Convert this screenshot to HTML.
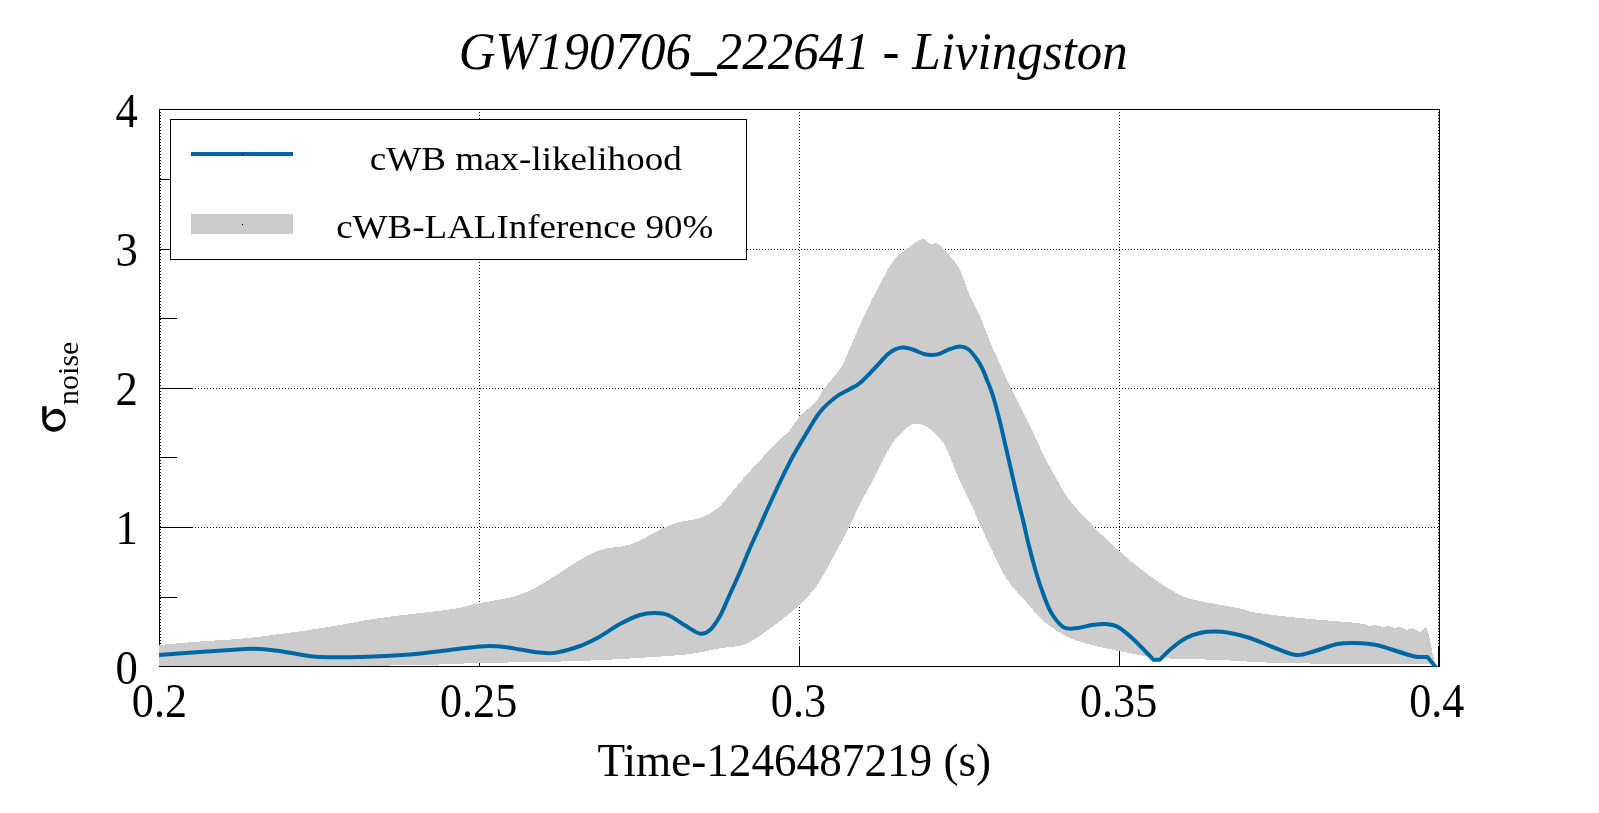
<!DOCTYPE html>
<html><head><meta charset="utf-8"><title>GW190706_222641 - Livingston</title>
<style>html,body{margin:0;padding:0;background:#fff;overflow:hidden}body{width:1599px;height:813px;position:relative;font-family:"Liberation Serif",serif}</style></head>
<body>
<svg width="1599" height="813" viewBox="0 0 1599 813" style="position:absolute;left:0;top:0">
<rect x="0" y="0" width="1599" height="813" fill="#fff"/>
<defs><clipPath id="pc"><rect x="159" y="109" width="1281" height="558"/></clipPath></defs>
<g shape-rendering="crispEdges" stroke="#000" stroke-width="1" fill="none">
<rect x="159.5" y="109.5" width="1280" height="557"/>
<line x1="159" y1="597.5" x2="177" y2="597.5"/>
<line x1="159" y1="527.5" x2="193" y2="527.5"/>
<line x1="159" y1="457.5" x2="177" y2="457.5"/>
<line x1="159" y1="388.5" x2="193" y2="388.5"/>
<line x1="159" y1="318.5" x2="177" y2="318.5"/>
<line x1="159" y1="249.5" x2="193" y2="249.5"/>
<line x1="159" y1="179.5" x2="177" y2="179.5"/>
<line x1="479.5" y1="646" x2="479.5" y2="666"/>
<line x1="799.5" y1="646" x2="799.5" y2="666"/>
<line x1="1119.5" y1="646" x2="1119.5" y2="666"/>
<line x1="1438.5" y1="646" x2="1438.5" y2="666"/>
<line x1="160.5" y1="646" x2="160.5" y2="666"/>
</g>
<g shape-rendering="crispEdges" stroke="#000" stroke-width="1" stroke-dasharray="1 2" fill="none">
<line x1="160.5" y1="109" x2="160.5" y2="666"/>
<line x1="479.5" y1="109" x2="479.5" y2="666"/>
<line x1="799.5" y1="109" x2="799.5" y2="666"/>
<line x1="1119.5" y1="109" x2="1119.5" y2="666"/>
<line x1="1438.5" y1="109" x2="1438.5" y2="666"/>
<line x1="159" y1="527.5" x2="1439" y2="527.5"/>
<line x1="159" y1="388.5" x2="1439" y2="388.5"/>
<line x1="159" y1="249.5" x2="1439" y2="249.5"/>
</g>
<path d="M159,645C165.83,644.42 185.17,642.67 200,641.5C214.83,640.33 228.00,640.18 248,638C268.00,635.82 298.00,631.73 320,628.4C342.00,625.07 358.33,621.17 380,618C401.67,614.83 433.33,611.90 450,609.4C466.67,606.90 469.00,605.23 480,603C491.00,600.77 505.33,599.33 516,596C526.67,592.67 535.00,588.00 544,583C553.00,578.00 560.67,571.50 570,566C579.33,560.50 589.67,553.67 600,550C610.33,546.33 620.33,548.17 632,544C643.67,539.83 658.67,529.33 670,525C681.33,520.67 692.23,520.67 700,518C707.77,515.33 712.93,511.33 716.6,509C720.27,506.67 717.02,509.67 722,504C726.98,498.33 737.25,485.37 746.5,475C755.75,464.63 770.32,449.18 777.5,441.8C784.68,434.42 785.92,434.95 789.6,430.7C793.28,426.45 795.37,420.92 799.6,416.3C803.83,411.68 810.93,407.60 815,403C819.07,398.40 821.17,392.70 824,388.7C826.83,384.70 829.07,382.70 832,379C834.93,375.30 838.60,371.67 841.6,366.5C844.60,361.33 846.27,356.42 850,348C853.73,339.58 859.00,326.67 864,316C869.00,305.33 875.00,293.33 880,284C885.00,274.67 889.33,266.00 894,260C898.67,254.00 903.33,251.50 908,248C912.67,244.50 918.33,239.67 922,239C925.67,238.33 927.33,243.17 930,244C932.67,244.83 934.67,242.00 938,244C941.33,246.00 946.33,251.67 950,256C953.67,260.33 956.67,263.33 960,270C963.33,276.67 966.67,288.33 970,296C973.33,303.67 976.67,308.33 980,316C983.33,323.67 986.67,334.00 990,342C993.33,350.00 997.17,357.67 1000,364C1002.83,370.33 1005.17,376.00 1007,380C1008.83,384.00 1008.83,383.67 1011,388C1013.17,392.33 1016.50,399.00 1020,406C1023.50,413.00 1028.00,421.67 1032,430C1036.00,438.33 1040.00,448.00 1044,456C1048.00,464.00 1052.00,471.00 1056,478C1060.00,485.00 1064.33,492.67 1068,498C1071.67,503.33 1073.67,505.17 1078,510C1082.33,514.83 1087.00,520.00 1094,527C1101.00,534.00 1110.67,543.83 1120,552C1129.33,560.17 1140.00,568.83 1150,576C1160.00,583.17 1171.67,590.83 1180,595C1188.33,599.17 1190.00,598.75 1200,601C1210.00,603.25 1230.83,606.58 1240,608.5C1249.17,610.42 1245.00,610.92 1255,612.5C1265.00,614.08 1283.83,616.33 1300,618C1316.17,619.67 1343.33,621.75 1352,622.5L1364.5,624L1369,626L1375,625L1382.5,627L1388.5,626L1394,628L1400.5,627L1406.5,630L1412.5,628L1420,632L1426,626L1429,635L1431,646L1434,659L1435,665L1430,664C1420.50,664.00 1398.00,664.17 1373,664C1348.00,663.83 1305.50,663.67 1280,663C1254.50,662.33 1240.00,660.83 1220,660C1200.00,659.17 1175.00,659.17 1160,658C1145.00,656.83 1140.00,654.83 1130,653C1120.00,651.17 1110.00,649.50 1100,647C1090.00,644.50 1079.00,642.00 1070,638C1061.00,634.00 1053.33,629.00 1046,623C1038.67,617.00 1032.67,609.50 1026,602C1019.33,594.50 1012.00,587.33 1006,578C1000.00,568.67 994.67,555.67 990,546C985.33,536.33 980.67,526.00 978,520C975.33,514.00 975.67,513.67 974,510C972.33,506.33 971.00,504.33 968,498C965.00,491.67 960.00,481.00 956,472C952.00,463.00 948.67,451.42 944,444C939.33,436.58 932.67,430.83 928,427.5C923.33,424.17 919.33,424.08 916,424C912.67,423.92 912.00,423.67 908,427C904.00,430.33 897.33,436.17 892,444C886.67,451.83 879.17,468.00 876,474C872.83,480.00 875.62,475.10 873,480C870.38,484.90 864.37,495.40 860.3,503.4C856.23,511.40 852.90,519.43 848.6,528C844.30,536.57 838.78,546.83 834.5,554.8C830.22,562.77 826.40,569.93 822.9,575.8C819.40,581.67 817.40,585.13 813.5,590C809.60,594.87 804.95,599.95 799.5,605C794.05,610.05 787.05,615.42 780.8,620.3C774.55,625.18 768.23,630.22 762,634.3C755.77,638.38 750.40,642.47 743.4,644.8C736.40,647.13 730.57,646.60 720,648.3C709.43,650.00 703.33,652.88 680,655C656.67,657.12 613.33,659.67 580,661C546.67,662.33 511.67,662.25 480,663C448.33,663.75 443.50,665.00 390,665.5C336.50,666.00 197.50,665.92 159,666Z" fill="#CCCCCC" shape-rendering="crispEdges"/>
<path d="M159,655C165.83,654.50 188.17,652.83 200,652C211.83,651.17 221.33,650.53 230,650C238.67,649.47 244.50,648.72 252,648.8C259.50,648.88 267.00,649.55 275,650.5C283.00,651.45 292.50,653.42 300,654.5C307.50,655.58 310.00,656.58 320,657C330.00,657.42 345.00,657.43 360,657C375.00,656.57 395.00,655.57 410,654.4C425.00,653.23 438.33,651.33 450,650C461.67,648.67 471.67,647.00 480,646.4C488.33,645.80 493.33,645.90 500,646.4C506.67,646.90 513.33,648.37 520,649.4C526.67,650.43 534.00,652.07 540,652.6C546.00,653.13 549.33,653.70 556,652.6C562.67,651.50 572.67,648.70 580,646C587.33,643.30 593.33,640.07 600,636.4C606.67,632.73 613.33,627.57 620,624C626.67,620.43 634.33,616.83 640,615C645.67,613.17 649.33,613.00 654,613C658.67,613.00 662.67,612.83 668,615C673.33,617.17 680.67,622.90 686,626C691.33,629.10 696.00,632.93 700,633.6C704.00,634.27 706.67,632.93 710,630C713.33,627.07 716.67,622.00 720,616C723.33,610.00 726.67,601.33 730,594C733.33,586.67 736.67,579.67 740,572C743.33,564.33 746.67,555.67 750,548C753.33,540.33 757.17,532.33 760,526C762.83,519.67 763.67,517.33 767,510C770.33,502.67 775.83,490.67 780,482C784.17,473.33 787.67,466.00 792,458C796.33,450.00 801.33,441.67 806,434C810.67,426.33 815.00,418.17 820,412C825.00,405.83 831.00,400.83 836,397C841.00,393.17 846.00,391.33 850,389C854.00,386.67 856.00,386.33 860,383C864.00,379.67 869.33,373.83 874,369C878.67,364.17 884.33,357.33 888,354C891.67,350.67 893.33,350.07 896,349C898.67,347.93 901.00,347.43 904,347.6C907.00,347.77 910.67,348.93 914,350C917.33,351.07 921.00,353.17 924,354C927.00,354.83 929.33,355.07 932,355C934.67,354.93 937.00,354.60 940,353.6C943.00,352.60 946.67,350.20 950,349C953.33,347.80 957.00,346.40 960,346.4C963.00,346.40 965.33,347.07 968,349C970.67,350.93 973.67,354.83 976,358C978.33,361.17 980.17,364.33 982,368C983.83,371.67 985.17,375.33 987,380C988.83,384.67 990.83,389.00 993,396C995.17,403.00 997.83,413.33 1000,422C1002.17,430.67 1004.00,439.33 1006,448C1008.00,456.67 1010.00,465.33 1012,474C1014.00,482.67 1016.17,492.33 1018,500C1019.83,507.67 1021.33,513.00 1023,520C1024.67,527.00 1025.83,533.33 1028,542C1030.17,550.67 1033.33,563.00 1036,572C1038.67,581.00 1041.33,589.00 1044,596C1046.67,603.00 1048.67,608.77 1052,614C1055.33,619.23 1059.67,625.07 1064,627.4C1068.33,629.73 1073.33,628.40 1078,628C1082.67,627.60 1087.33,625.67 1092,625C1096.67,624.33 1101.67,623.67 1106,624C1110.33,624.33 1113.67,624.67 1118,627C1122.33,629.33 1127.33,633.83 1132,638C1136.67,642.17 1142.42,648.37 1146,652C1149.58,655.63 1152.25,658.50 1153.5,659.8C1154.50,659.80 1158.50,659.80 1159.5,659.8C1161.58,657.83 1167.58,651.63 1172,648C1176.42,644.37 1181.33,640.50 1186,638C1190.67,635.50 1195.33,634.07 1200,633C1204.67,631.93 1209.00,631.60 1214,631.6C1219.00,631.60 1224.00,631.93 1230,633C1236.00,634.07 1242.08,635.33 1250,638C1257.92,640.67 1269.67,646.17 1277.5,649C1285.33,651.83 1290.75,654.67 1297,655C1303.25,655.33 1308.25,652.83 1315,651C1321.75,649.17 1330.75,645.33 1337.5,644C1344.25,642.67 1349.25,642.88 1355.5,643C1361.75,643.12 1369.25,643.75 1375,644.75C1380.75,645.75 1385.00,647.50 1390,649C1395.00,650.50 1400.67,652.46 1405,653.75C1409.33,655.04 1412.25,656.21 1416,656.75C1419.75,657.29 1425.58,656.96 1427.5,657C1428.58,658.33 1432.92,663.67 1434,665C1434.50,665.58 1436.50,667.92 1437,668.5" fill="none" stroke="#0067A5" stroke-width="4" stroke-linejoin="round" clip-path="url(#pc)"/>
<rect x="170.5" y="119.5" width="576" height="140" fill="#fff" stroke="#000" stroke-width="1" shape-rendering="crispEdges"/>
<rect x="191" y="152" width="102" height="4" fill="#0067A5" shape-rendering="crispEdges"/>
<rect x="191" y="214" width="102" height="20" fill="#CCCCCC" shape-rendering="crispEdges"/>
<rect x="242" y="154" width="1" height="1" fill="#000"/><rect x="242" y="224" width="1" height="1" fill="#000"/>
<g style="opacity:0.999">
<text transform="translate(793.2,69) scale(0.9815,1)" text-anchor="middle" style="font-family:'Liberation Serif',serif;fill:#000;font-size:52px;font-style:italic">GW190706_222641 - Livingston</text>
<rect x="690.5" y="72.3" width="25.5" height="2.6" fill="#000"/>
<text transform="translate(159.4,717.4) scale(0.92,1)" text-anchor="middle" style="font-family:'Liberation Serif',serif;fill:#000;font-size:48px">0.2</text>
<text transform="translate(478.6,717.4) scale(0.92,1)" text-anchor="middle" style="font-family:'Liberation Serif',serif;fill:#000;font-size:48px">0.25</text>
<text transform="translate(798.4,717.4) scale(0.92,1)" text-anchor="middle" style="font-family:'Liberation Serif',serif;fill:#000;font-size:48px">0.3</text>
<text transform="translate(1118.6,717.4) scale(0.92,1)" text-anchor="middle" style="font-family:'Liberation Serif',serif;fill:#000;font-size:48px">0.35</text>
<text transform="translate(1436.8,717.4) scale(0.92,1)" text-anchor="middle" style="font-family:'Liberation Serif',serif;fill:#000;font-size:48px">0.4</text>
<text transform="translate(137.8,683.7) scale(0.94,1)" text-anchor="end" style="font-family:'Liberation Serif',serif;fill:#000;font-size:47.5px">0</text>
<text transform="translate(137.8,544.45) scale(0.94,1)" text-anchor="end" style="font-family:'Liberation Serif',serif;fill:#000;font-size:47.5px">1</text>
<text transform="translate(137.8,405.2) scale(0.94,1)" text-anchor="end" style="font-family:'Liberation Serif',serif;fill:#000;font-size:47.5px">2</text>
<text transform="translate(137.8,265.95) scale(0.94,1)" text-anchor="end" style="font-family:'Liberation Serif',serif;fill:#000;font-size:47.5px">3</text>
<text transform="translate(137.8,126.7) scale(0.94,1)" text-anchor="end" style="font-family:'Liberation Serif',serif;fill:#000;font-size:47.5px">4</text>
<text transform="translate(794.3,776) scale(0.972,1)" text-anchor="middle" style="font-family:'Liberation Serif',serif;fill:#000;font-size:46.5px">Time-1246487219 (s)</text>
<text transform="translate(525.8,169.5) scale(1.075,1)" text-anchor="middle" style="font-family:'Liberation Serif',serif;fill:#000;font-size:34.5px">cWB max-likelihood</text>
<text transform="translate(524.7,238) scale(1.073,1)" text-anchor="middle" style="font-family:'Liberation Serif',serif;fill:#000;font-size:34.5px">cWB-LALInference 90%</text>
<path fill="#000" d="M42.2,406.3L46.6,406.3L46.6,416C49.5,412.3 52.5,408.8 56.5,408.8C61.58,408.8 65.7,413.95 65.7,420.3C65.7,426.65 60.46,431.8 54,431.8C47.48,431.8 42.2,426.29 42.2,419.5Z"/>
<ellipse cx="54.9" cy="420.45" rx="8.9" ry="6.65" fill="#fff" transform="rotate(-8 54.9 420.45)"/>
<text transform="translate(78.3,404.9) rotate(-90)" style="font-family:'Liberation Serif',serif;fill:#000;font-size:30px">noise</text>
</g>
</svg>
</body></html>
